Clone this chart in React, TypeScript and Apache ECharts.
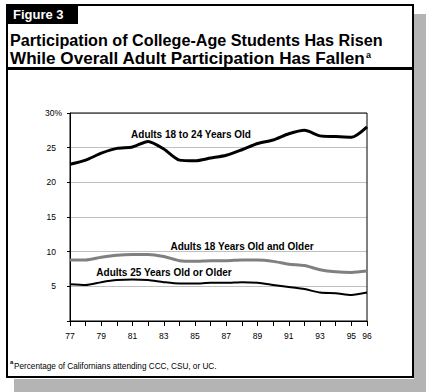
import React, { useEffect, useRef } from "react";
import * as echarts from "echarts";

const years = ["77","78","79","80","81","82","83","84","85","86","87","88","89","90","91","92","93","94","95","96"];
const adults18to24 = [22.6,23.2,24.2,24.9,25.1,25.9,24.8,23.2,23.1,23.5,23.9,24.7,25.6,26.1,27.0,27.5,26.7,26.6,26.5,28.0];
const adults18plus = [8.8,8.8,9.2,9.5,9.6,9.6,9.3,8.7,8.6,8.7,8.7,8.8,8.8,8.6,8.2,8.0,7.4,7.1,7.0,7.2];
const adults25plus = [5.3,5.2,5.6,5.9,6.0,5.9,5.6,5.4,5.4,5.5,5.5,5.6,5.5,5.2,4.9,4.6,4.1,4.0,3.75,4.1];
const yTicks = [0, 5, 10, 15, 20, 25, 30];

const FONT = "'Liberation Sans', Arial, sans-serif";

export default function App() {
  const ref = useRef<HTMLDivElement>(null);
  useEffect(() => {
    if (!ref.current) return;
    const chart = echarts.init(ref.current, undefined, { renderer: "svg" });
    const gl = 70, gr = 59, gt = 113, gb = 71;
    const W = 426, H = 392;
    chart.setOption({
      animation: false,
      backgroundColor: "#ffffff",
      textStyle: { fontFamily: FONT },
      grid: { left: gl, right: gr, top: gt, bottom: gb, containLabel: false },
      xAxis: {
        type: "category",
        data: years,
        boundaryGap: false,
        axisLine: { lineStyle: { color: "#000", width: 1 } },
        axisTick: { show: true, interval: 0, length: 5, lineStyle: { color: "#000" } },
        axisLabel: {
          interval: (i: number) => i % 2 === 0 || i === years.length - 1,
          color: "#000",
          fontSize: 8.5,
          fontFamily: FONT,
          margin: 10,
        },
        splitLine: { show: false },
      },
      yAxis: {
        type: "value",
        min: yTicks[0],
        max: yTicks[yTicks.length - 1],
        interval: 5,
        axisLine: { show: true, lineStyle: { color: "#000", width: 1 } },
        axisTick: { show: true, length: 3, lineStyle: { color: "#000" } },
        axisLabel: {
          color: "#000",
          fontSize: 8.5,
          fontFamily: FONT,
          margin: 8,
          formatter: (v: number) => (v === 0 ? "" : v === 30 ? "{b|30%}" : `{a|${v}}`),
          rich: {
            a: { fontSize: 8.5, fontFamily: FONT, color: "#000", padding: [0, 6, 0, 0] },
            b: { fontSize: 8.5, fontFamily: FONT, color: "#000" },
          },
        },
        splitLine: { show: true, lineStyle: { color: "#c0c0c0", width: 1 } },
      },
      series: [
        {
          name: "Adults 18 to 24 Years Old",
          type: "line",
          data: adults18to24,
          smooth: 0.25,
          symbol: "none",
          lineStyle: { color: "#000", width: 3 },
          z: 5,
        },
        {
          name: "Adults 18 Years Old and Older",
          type: "line",
          data: adults18plus,
          smooth: 0.25,
          symbol: "none",
          lineStyle: { color: "#808080", width: 3 },
          z: 4,
        },
        {
          name: "Adults 25 Years Old or Older",
          type: "line",
          data: adults25plus,
          smooth: 0.25,
          symbol: "none",
          lineStyle: { color: "#000", width: 2 },
          z: 4,
        },
      ],
      graphic: [
        { type: "rect", shape: { x: 414, y: 14, width: 12, height: 378 }, style: { fill: "#b4b4b4" }, z: 1 },
        { type: "rect", shape: { x: 14, y: 379, width: 412, height: 13 }, style: { fill: "#b4b4b4" }, z: 1 },
        { type: "rect", shape: { x: 7, y: 5, width: 406, height: 372 }, style: { fill: "none", stroke: "#000", lineWidth: 2 }, z: 10 },
        { type: "rect", shape: { x: 6, y: 4, width: 72, height: 20 }, style: { fill: "#000" }, z: 11 },
        { type: "text", x: 13, y: 14, style: { text: "Figure 3", fill: "#fff", font: `bold 13px ${FONT}`, textVerticalAlign: "middle" }, z: 12 },
        { type: "text", x: 10, y: 40, scaleX: 1.01, style: { text: "Participation of College-Age Students Has Risen", fill: "#000", font: `bold 16px ${FONT}`, textVerticalAlign: "middle" }, z: 12 },
        { type: "text", x: 10, y: 59, scaleX: 1.07, style: { text: "While Overall Adult Participation Has Fallen", fill: "#000", font: `bold 16px ${FONT}`, textVerticalAlign: "middle" }, z: 12 },
        { type: "text", x: 366, y: 55, style: { text: "a", fill: "#000", font: `bold 9px ${FONT}`, textVerticalAlign: "middle" }, z: 12 },
        { type: "rect", shape: { x: 6, y: 67, width: 408, height: 3 }, style: { fill: "#000" }, z: 11 },
        { type: "rect", shape: { x: gl, y: gt, width: W - gl - gr, height: H - gt - gb }, style: { fill: "none", stroke: "#000", lineWidth: 1 }, z: 3 },
        { type: "text", x: 191, y: 134, style: { text: "Adults 18 to 24 Years Old", fill: "#000", font: `bold 10px ${FONT}`, textAlign: "center", textVerticalAlign: "middle" }, z: 12 },
        { type: "text", x: 242, y: 246.5, style: { text: "Adults 18 Years Old and Older", fill: "#000", font: `bold 10px ${FONT}`, textAlign: "center", textVerticalAlign: "middle" }, z: 12 },
        { type: "text", x: 164, y: 272, style: { text: "Adults 25 Years Old or Older", fill: "#000", font: `bold 10px ${FONT}`, textAlign: "center", textVerticalAlign: "middle" }, z: 12 },
        { type: "text", x: 10, y: 362, style: { text: "a", fill: "#000", font: `bold 6px ${FONT}`, textVerticalAlign: "middle" }, z: 12 },
        { type: "text", x: 14, y: 366, style: { text: "Percentage of Californians attending CCC, CSU, or UC.", fill: "#000", font: `8.2px ${FONT}`, textVerticalAlign: "middle" }, z: 12 },
      ],
    });
    return () => chart.dispose();
  }, []);
  return (
    <div
      ref={ref}
      style={{ position: "fixed", left: 0, top: 0, width: 426, height: 392, background: "#fff" }}
    />
  );
}
